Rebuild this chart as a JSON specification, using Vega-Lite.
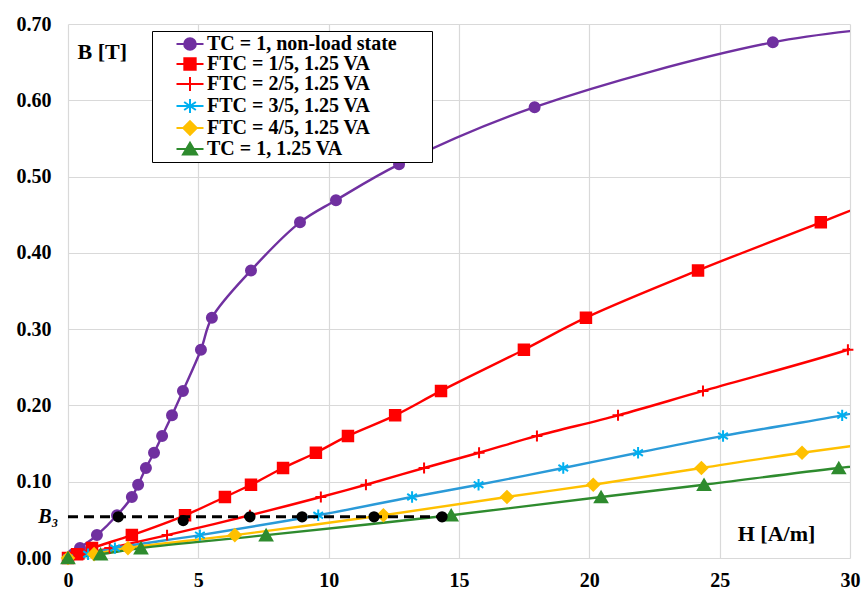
{
  "$schema": "https://vega.github.io/schema/vega-lite/v6.json",
  "width": 782,
  "height": 534,
  "autosize": "none",
  "padding": {"left": 68, "top": 24, "right": 12, "bottom": 32},
  "background": "white",
  "config": {
    "view": {"stroke": null},
    "font": "Liberation Serif",
    "axis": {
      "labelFont": "Liberation Serif",
      "labelFontSize": 20,
      "labelFontWeight": "bold",
      "labelColor": "black",
      "titleFont": "Liberation Serif",
      "titleFontSize": 22,
      "titleFontWeight": "bold",
      "titleColor": "black",
      "gridColor": "#d9d9d9",
      "gridWidth": 1.2,
      "domain": false,
      "ticks": false
    }
  },
  "datasets": {
    "curves": [
      {"series": "TC = 1, non-load state", "H": 0, "B": 0},
      {"series": "TC = 1, non-load state", "H": 0.2, "B": 0.005},
      {"series": "TC = 1, non-load state", "H": 0.46, "B": 0.013},
      {"series": "TC = 1, non-load state", "H": 1.11, "B": 0.03},
      {"series": "TC = 1, non-load state", "H": 1.88, "B": 0.056},
      {"series": "TC = 1, non-load state", "H": 2.45, "B": 0.08},
      {"series": "TC = 1, non-load state", "H": 2.69, "B": 0.096},
      {"series": "TC = 1, non-load state", "H": 2.99, "B": 0.118},
      {"series": "TC = 1, non-load state", "H": 3.3, "B": 0.138},
      {"series": "TC = 1, non-load state", "H": 3.61, "B": 0.16},
      {"series": "TC = 1, non-load state", "H": 3.99, "B": 0.187},
      {"series": "TC = 1, non-load state", "H": 4.41, "B": 0.219},
      {"series": "TC = 1, non-load state", "H": 5.1, "B": 0.273},
      {"series": "TC = 1, non-load state", "H": 5.52, "B": 0.315},
      {"series": "TC = 1, non-load state", "H": 7.02, "B": 0.377},
      {"series": "TC = 1, non-load state", "H": 8.9, "B": 0.44},
      {"series": "TC = 1, non-load state", "H": 10.28, "B": 0.469},
      {"series": "TC = 1, non-load state", "H": 12.7, "B": 0.516},
      {"series": "TC = 1, non-load state", "H": 17.9, "B": 0.591},
      {"series": "TC = 1, non-load state", "H": 27.04, "B": 0.676},
      {"series": "TC = 1, non-load state", "H": 32.5, "B": 0.699},

      {"series": "FTC = 1/5, 1.25 VA", "H": 0, "B": 0},
      {"series": "FTC = 1/5, 1.25 VA", "H": 0.35, "B": 0.005},
      {"series": "FTC = 1/5, 1.25 VA", "H": 0.92, "B": 0.013},
      {"series": "FTC = 1/5, 1.25 VA", "H": 2.45, "B": 0.03},
      {"series": "FTC = 1/5, 1.25 VA", "H": 4.49, "B": 0.056},
      {"series": "FTC = 1/5, 1.25 VA", "H": 6.02, "B": 0.08},
      {"series": "FTC = 1/5, 1.25 VA", "H": 7.02, "B": 0.096},
      {"series": "FTC = 1/5, 1.25 VA", "H": 8.25, "B": 0.118},
      {"series": "FTC = 1/5, 1.25 VA", "H": 9.51, "B": 0.138},
      {"series": "FTC = 1/5, 1.25 VA", "H": 10.74, "B": 0.16},
      {"series": "FTC = 1/5, 1.25 VA", "H": 12.55, "B": 0.187},
      {"series": "FTC = 1/5, 1.25 VA", "H": 14.31, "B": 0.219},
      {"series": "FTC = 1/5, 1.25 VA", "H": 17.49, "B": 0.273},
      {"series": "FTC = 1/5, 1.25 VA", "H": 19.87, "B": 0.315},
      {"series": "FTC = 1/5, 1.25 VA", "H": 24.17, "B": 0.377},
      {"series": "FTC = 1/5, 1.25 VA", "H": 28.88, "B": 0.44},
      {"series": "FTC = 1/5, 1.25 VA", "H": 31.0, "B": 0.469},

      {"series": "FTC = 2/5, 1.25 VA", "H": 0, "B": 0},
      {"series": "FTC = 2/5, 1.25 VA", "H": 0.6, "B": 0.005},
      {"series": "FTC = 2/5, 1.25 VA", "H": 1.6, "B": 0.013},
      {"series": "FTC = 2/5, 1.25 VA", "H": 3.8, "B": 0.03},
      {"series": "FTC = 2/5, 1.25 VA", "H": 6.98, "B": 0.056},
      {"series": "FTC = 2/5, 1.25 VA", "H": 9.7, "B": 0.08},
      {"series": "FTC = 2/5, 1.25 VA", "H": 11.43, "B": 0.096},
      {"series": "FTC = 2/5, 1.25 VA", "H": 13.66, "B": 0.118},
      {"series": "FTC = 2/5, 1.25 VA", "H": 15.77, "B": 0.138},
      {"series": "FTC = 2/5, 1.25 VA", "H": 17.99, "B": 0.16},
      {"series": "FTC = 2/5, 1.25 VA", "H": 21.1, "B": 0.187},
      {"series": "FTC = 2/5, 1.25 VA", "H": 24.36, "B": 0.219},
      {"series": "FTC = 2/5, 1.25 VA", "H": 29.92, "B": 0.273},
      {"series": "FTC = 2/5, 1.25 VA", "H": 33.5, "B": 0.315},

      {"series": "FTC = 3/5, 1.25 VA", "H": 0, "B": 0},
      {"series": "FTC = 3/5, 1.25 VA", "H": 0.77, "B": 0.005},
      {"series": "FTC = 3/5, 1.25 VA", "H": 1.8, "B": 0.013},
      {"series": "FTC = 3/5, 1.25 VA", "H": 5.06, "B": 0.03},
      {"series": "FTC = 3/5, 1.25 VA", "H": 9.6, "B": 0.056},
      {"series": "FTC = 3/5, 1.25 VA", "H": 13.2, "B": 0.08},
      {"series": "FTC = 3/5, 1.25 VA", "H": 15.75, "B": 0.096},
      {"series": "FTC = 3/5, 1.25 VA", "H": 19.0, "B": 0.118},
      {"series": "FTC = 3/5, 1.25 VA", "H": 21.87, "B": 0.138},
      {"series": "FTC = 3/5, 1.25 VA", "H": 25.13, "B": 0.16},
      {"series": "FTC = 3/5, 1.25 VA", "H": 29.7, "B": 0.187},
      {"series": "FTC = 3/5, 1.25 VA", "H": 34.5, "B": 0.219},

      {"series": "FTC = 4/5, 1.25 VA", "H": 0, "B": 0},
      {"series": "FTC = 4/5, 1.25 VA", "H": 1.0, "B": 0.005},
      {"series": "FTC = 4/5, 1.25 VA", "H": 2.3, "B": 0.013},
      {"series": "FTC = 4/5, 1.25 VA", "H": 6.4, "B": 0.03},
      {"series": "FTC = 4/5, 1.25 VA", "H": 12.1, "B": 0.056},
      {"series": "FTC = 4/5, 1.25 VA", "H": 16.84, "B": 0.08},
      {"series": "FTC = 4/5, 1.25 VA", "H": 20.15, "B": 0.096},
      {"series": "FTC = 4/5, 1.25 VA", "H": 24.3, "B": 0.118},
      {"series": "FTC = 4/5, 1.25 VA", "H": 28.16, "B": 0.138},
      {"series": "FTC = 4/5, 1.25 VA", "H": 33.0, "B": 0.16},

      {"series": "TC = 1, 1.25 VA", "H": 0, "B": 0},
      {"series": "TC = 1, 1.25 VA", "H": 1.25, "B": 0.005},
      {"series": "TC = 1, 1.25 VA", "H": 2.8, "B": 0.013},
      {"series": "TC = 1, 1.25 VA", "H": 7.6, "B": 0.03},
      {"series": "TC = 1, 1.25 VA", "H": 14.7, "B": 0.056},
      {"series": "TC = 1, 1.25 VA", "H": 20.45, "B": 0.08},
      {"series": "TC = 1, 1.25 VA", "H": 24.4, "B": 0.096},
      {"series": "TC = 1, 1.25 VA", "H": 29.57, "B": 0.118},
      {"series": "TC = 1, 1.25 VA", "H": 35.5, "B": 0.138}
    ],
    "b3line": [
      {"H": 0, "B": 0.054},
      {"H": 14.35, "B": 0.054}
    ],
    "b3dots": [
      {"H": 1.93, "B": 0.054},
      {"H": 4.42, "B": 0.049},
      {"H": 6.98, "B": 0.054},
      {"H": 8.98, "B": 0.054},
      {"H": 11.74, "B": 0.054},
      {"H": 14.35, "B": 0.054}
    ]
  },
  "encoding": {
    "x": {
      "field": "H",
      "type": "quantitative",
      "scale": {"domain": [0, 30], "nice": false},
      "axis": {
        "values": [0, 5, 10, 15, 20, 25, 30],
        "labelPadding": 12,
        "labelFlush": false,
        "title": "H [A/m]",
        "titleX": 708,
        "titleY": -25,
        "titleAlign": "center",
        "titleBaseline": "middle"
      }
    },
    "y": {
      "field": "B",
      "type": "quantitative",
      "scale": {"domain": [0, 0.7], "nice": false},
      "axis": {
        "values": [0, 0.054, 0.1, 0.2, 0.3, 0.4, 0.5, 0.6, 0.7],
        "labelExpr": "datum.value == 0.054 ? 'B\u2083' : format(datum.value, '.2f')",
        "labelFontStyle": {"condition": {"test": "datum.value == 0.054", "value": "italic"}, "value": "normal"},
        "labelPadding": {"condition": {"test": "datum.value == 0.054", "value": 10}, "value": 17},
        "gridOpacity": {"condition": {"test": "datum.value == 0.054", "value": 0}, "value": 1},
        "labelFlush": false,
        "title": "B [T]",
        "titleAngle": 0,
        "titleX": 9,
        "titleY": 27,
        "titleAlign": "left",
        "titleBaseline": "middle"
      }
    }
  },
  "layer": [
    {
      "data": {"name": "curves"},
      "mark": {"type": "line", "interpolate": "catmull-rom", "strokeWidth": 2.4, "clip": true},
      "encoding": {
        "stroke": {
          "field": "series",
          "type": "nominal",
          "scale": {
            "domain": ["TC = 1, non-load state", "FTC = 1/5, 1.25 VA", "FTC = 2/5, 1.25 VA", "FTC = 3/5, 1.25 VA", "FTC = 4/5, 1.25 VA", "TC = 1, 1.25 VA"],
            "range": ["#7030A0", "#FF0000", "#FF0000", "#2A9AD8", "#FFC000", "#2E8B2E"]
          },
          "legend": null
        }
      }
    },
    {
      "data": {"name": "curves"},
      "transform": [{"filter": "datum.H <= 30"}],
      "mark": {"type": "point", "filled": true, "opacity": 1, "strokeWidth": 2},
      "encoding": {
        "fill": {
          "field": "series",
          "type": "nominal",
          "scale": {
            "domain": ["TC = 1, non-load state", "FTC = 1/5, 1.25 VA", "FTC = 2/5, 1.25 VA", "FTC = 3/5, 1.25 VA", "FTC = 4/5, 1.25 VA", "TC = 1, 1.25 VA"],
            "range": ["#7030A0", "#FF0000", "#FF0000", "#00B0F0", "#FFC000", "#2E8B2E"]
          },
          "legend": null
        },
        "stroke": {
          "field": "series",
          "type": "nominal",
          "scale": {
            "domain": ["TC = 1, non-load state", "FTC = 1/5, 1.25 VA", "FTC = 2/5, 1.25 VA", "FTC = 3/5, 1.25 VA", "FTC = 4/5, 1.25 VA", "TC = 1, 1.25 VA"],
            "range": ["#7030A0", "#FF0000", "#FF0000", "#00B0F0", "#FFC000", "#2E8B2E"]
          },
          "legend": null
        },
        "shape": {
          "field": "series",
          "type": "nominal",
          "scale": {
            "domain": ["TC = 1, non-load state", "FTC = 1/5, 1.25 VA", "FTC = 2/5, 1.25 VA", "FTC = 3/5, 1.25 VA", "FTC = 4/5, 1.25 VA", "TC = 1, 1.25 VA"],
            "range": ["circle", "square", "M-1,0H1M0,-1V1", "M0,-1V1M-0.85,-0.55L0.85,0.55M-0.85,0.55L0.85,-0.55", "diamond", "triangle-up"]
          },
          "legend": null
        },
        "size": {
          "field": "series",
          "type": "nominal",
          "scale": {
            "domain": ["TC = 1, non-load state", "FTC = 1/5, 1.25 VA", "FTC = 2/5, 1.25 VA", "FTC = 3/5, 1.25 VA", "FTC = 4/5, 1.25 VA", "TC = 1, 1.25 VA"],
            "range": [100, 150, 144, 196, 169, 196]
          },
          "legend": null
        }
      }
    },
    {
      "data": {"name": "b3line"},
      "mark": {"type": "line", "color": "black", "strokeWidth": 3, "strokeDash": [10, 6]},
      "encoding": {}
    },
    {
      "data": {"name": "b3dots"},
      "mark": {"type": "point", "filled": true, "color": "black", "opacity": 1, "size": 125},
      "encoding": {}
    },
    {
      "data": {"name": "curves"},
      "transform": [{"filter": "datum.H < 0"}],
      "mark": {"type": "point", "filled": true, "opacity": 1, "strokeWidth": 2},
      "encoding": {
        "fill": {
          "field": "series",
          "type": "nominal",
          "title": null,
          "scale": {
            "domain": ["TC = 1, non-load state", "FTC = 1/5, 1.25 VA", "FTC = 2/5, 1.25 VA", "FTC = 3/5, 1.25 VA", "FTC = 4/5, 1.25 VA", "TC = 1, 1.25 VA"],
            "range": ["#7030A0", "#FF0000", "#FF0000", "#00B0F0", "#FFC000", "#2E8B2E"]
          },
          "legend": {
            "title": null,
            "orient": "none",
            "legendX": 84,
            "legendY": 7,
            "direction": "vertical",
            "strokeColor": "black",
            "fillColor": "white",
            "padding": 3,
            "symbolOffset": 25,
            "symbolSize": 324,
            "symbolStrokeWidth": 2,
            "symbolOpacity": 1,
            "rowPadding": -2.4,
            "labelOffset": 7,
            "labelFont": "Liberation Serif",
            "labelFontSize": 20,
            "labelFontWeight": "bold",
            "labelColor": "black",
            "labelLimit": 400
          }
        },
        "stroke": {
          "field": "series",
          "type": "nominal",
          "title": null,
          "scale": {
            "domain": ["TC = 1, non-load state", "FTC = 1/5, 1.25 VA", "FTC = 2/5, 1.25 VA", "FTC = 3/5, 1.25 VA", "FTC = 4/5, 1.25 VA", "TC = 1, 1.25 VA"],
            "range": ["#7030A0", "#FF0000", "#FF0000", "#00B0F0", "#FFC000", "#2E8B2E"]
          }
        },
        "shape": {
          "field": "series",
          "type": "nominal",
          "title": null,
          "scale": {
            "domain": ["TC = 1, non-load state", "FTC = 1/5, 1.25 VA", "FTC = 2/5, 1.25 VA", "FTC = 3/5, 1.25 VA", "FTC = 4/5, 1.25 VA", "TC = 1, 1.25 VA"],
            "range": [
              "M-1.5,0H1.5M-0.65,0A0.65,0.65,0,1,0,0.65,0A0.65,0.65,0,1,0,-0.65,0ZM26.1,0",
              "M-1.5,0H1.5M-0.63,-0.63H0.63V0.63H-0.63ZM26.1,0",
              "M-1.5,0H1.5M0,-0.78V0.78M26.1,0",
              "M-1.5,0H1.5M0,-0.78V0.78M-0.65,-0.45L0.65,0.45M-0.65,0.45L0.65,-0.45M26.1,0",
              "M-1.5,0H1.5M0,-0.75L0.75,0L0,0.75L-0.75,0ZM26.1,0",
              "M-1.5,0H1.5M0,-0.7L0.78,0.6H-0.78ZM26.1,0"
            ]
          }
        }
      }
    }
  ],
  "resolve": {"scale": {"stroke": "independent", "fill": "independent", "shape": "independent"}}
}
